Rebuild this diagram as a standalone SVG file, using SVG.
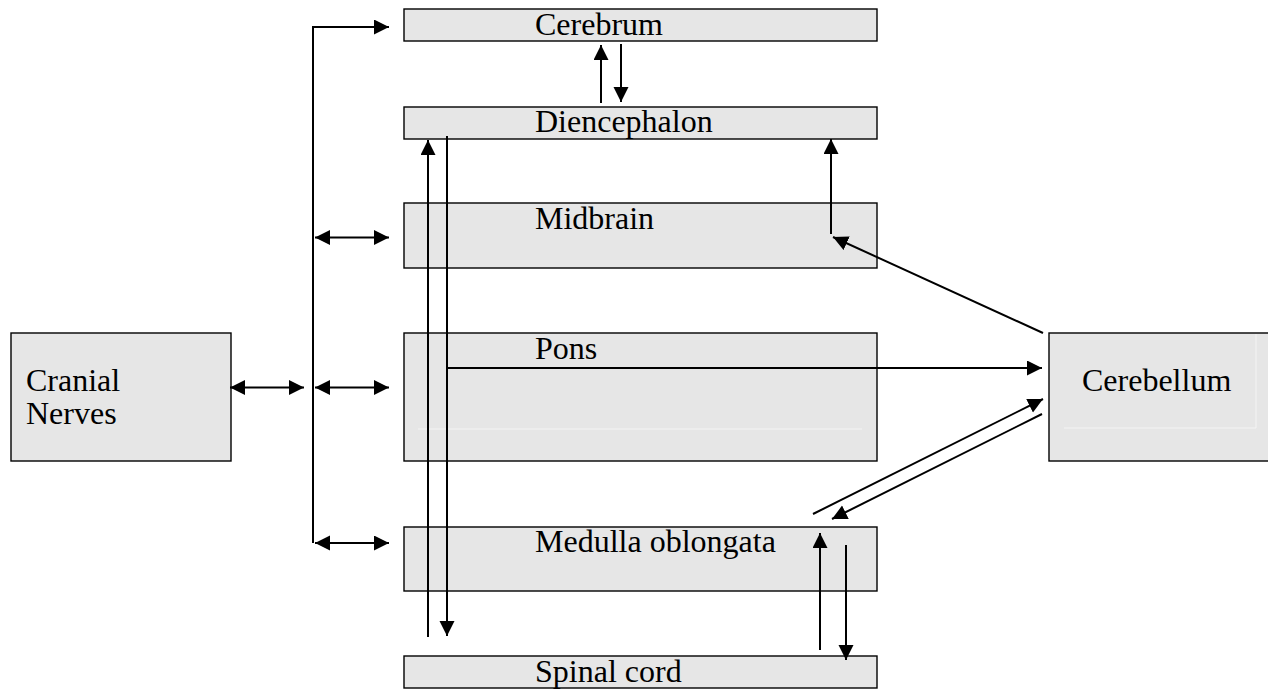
<svg xmlns="http://www.w3.org/2000/svg" width="1268" height="689" viewBox="0 0 1268 689">
<defs>
<marker id="ah" markerUnits="userSpaceOnUse" markerWidth="16" markerHeight="16" refX="15" refY="7.5" orient="auto-start-reverse" viewBox="0 0 16 16">
<path d="M0,0 L15,7.5 L0,15 z" fill="#000"/>
</marker>
<style>
.box{fill:#e6e6e6;stroke:#000;stroke-width:1.4}
.faint{stroke:#f4f4f4;stroke-width:1;fill:none}
.c{stroke:#000;stroke-width:2;fill:none}
.a{marker-end:url(#ah)}
.d{marker-start:url(#ah);marker-end:url(#ah)}
</style>
</defs>
<rect width="1268" height="689" fill="#fff"/>
<g font-family="Liberation Serif, serif" font-size="32" fill="#000">
<g id="cerebrum"><rect class="box" x="404" y="9" width="473" height="32"/><text x="535" y="35">Cerebrum</text></g>
<g id="diencephalon"><rect class="box" x="404" y="107" width="473" height="32"/><text x="535" y="132">Diencephalon</text></g>
<g id="midbrain"><rect class="box" x="404" y="203" width="473" height="65"/><text x="535" y="229">Midbrain</text></g>
<g id="pons"><rect class="box" x="404" y="333" width="473" height="128"/><line class="faint" x1="418" y1="429" x2="862" y2="429"/><text x="535" y="359">Pons</text></g>
<g id="medulla"><rect class="box" x="404" y="527" width="473" height="64"/><text x="535" y="552">Medulla oblongata</text></g>
<g id="spinal"><rect class="box" x="404" y="656" width="473" height="32"/><text x="535" y="682">Spinal cord</text></g>
<g id="cranial"><rect class="box" x="11" y="333" width="220" height="128"/><text x="26" y="391">Cranial</text><text x="26" y="424">Nerves</text></g>
<g id="cerebellum"><rect class="box" x="1049" y="333" width="222" height="128"/><path class="faint" d="M1064,428 H1256 V334"/><text x="1082" y="391">Cerebellum</text></g>
</g>
<g id="connectors">
<path class="c" d="M389,27 H313 V543" stroke-width="2.4"/>
<line class="c a" x1="313" y1="27" x2="389" y2="27"/>
<line class="c d" x1="315" y1="237.5" x2="389" y2="237.5"/>
<line class="c d" x1="315" y1="387.5" x2="389" y2="387.5"/>
<line class="c d" x1="315" y1="543" x2="389" y2="543"/>
<line class="c d" x1="230" y1="387.5" x2="304" y2="387.5"/>
<line class="c a" x1="601" y1="103" x2="601" y2="45"/>
<line class="c a" x1="621" y1="44" x2="621" y2="102"/>
<line class="c a" x1="428" y1="637" x2="428" y2="140"/>
<line class="c a" x1="447" y1="136" x2="447" y2="636"/>
<line class="c a" x1="831" y1="234" x2="831" y2="139"/>
<line class="c a" x1="1043" y1="333" x2="833" y2="237"/>
<line class="c a" x1="447" y1="368" x2="1042" y2="368"/>
<line class="c a" x1="813" y1="514" x2="1043" y2="399"/>
<line class="c a" x1="1042" y1="414" x2="832" y2="519"/>
<line class="c a" x1="820" y1="650" x2="820" y2="533"/>
<line class="c a" x1="846" y1="545" x2="846" y2="660"/>
</g>
</svg>
